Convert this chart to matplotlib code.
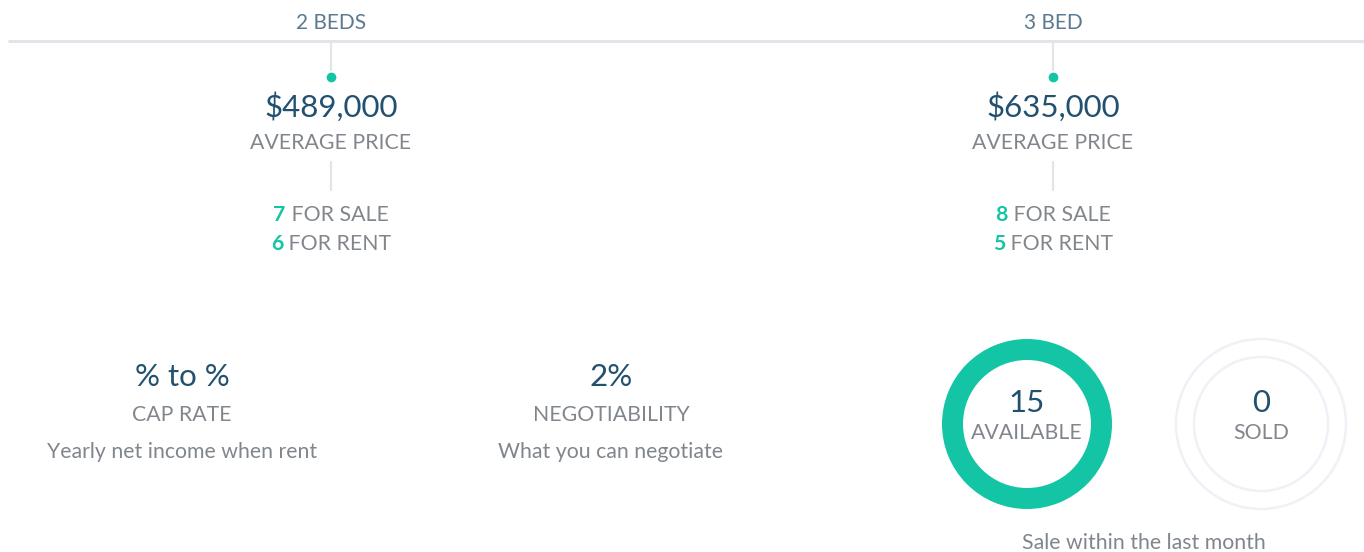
import matplotlib
matplotlib.use("Agg")
import matplotlib.pyplot as plt
from matplotlib.patches import Wedge, Circle

plt.rcParams['font.family'] = ['Lato', 'DejaVu Sans']

# ---- data ----
bed_labels = ["2 BEDS", "3 BED"]
avg_prices = [489000, 635000]
for_sale = [7, 8]
for_rent = [6, 5]
stat_values = ["% to %", "2%"]
stat_titles = ["CAP RATE", "NEGOTIABILITY"]
stat_notes = ["Yearly net income when rent", "What you can negotiate"]
available = 15
sold = 0
ring_caption = "Sale within the last month"

# ---- style ----
TEAL = "#13c5a4"
DARK = "#22506f"
GREY = "#80868c"
HEAD = "#5b7a8f"
LINE = "#e1e5ea"
TRACK = "#eef2f7"
FS_BIG = 22.5
FS_TXT = 15.3
FS_HEAD = 15

W, H = 1364, 552
fig = plt.figure(figsize=(W / 100, H / 100), dpi=100)
ax = fig.add_axes([0, 0, 1, 1])
ax.set_xlim(0, W)
ax.set_ylim(H, 0)
ax.axis("off")

# top timeline
ax.plot([8, W], [41, 41], color=LINE, lw=2.2, solid_capstyle="butt")
col_x = [331, 1053]
fig.canvas.draw()
r = fig.canvas.get_renderer()
for i, x in enumerate(col_x):
    ax.text(x, 23, bed_labels[i], ha="center", va="center", fontsize=FS_HEAD, color=HEAD)
    ax.plot([x, x], [41, 70], color=LINE, lw=1.6)
    ax.plot([x], [77], "o", color=TEAL, ms=7, mec="none")
    ax.text(x, 107, f"${avg_prices[i]:,}", ha="center", va="center", fontsize=FS_BIG, color=DARK)
    ax.text(x, 143, "AVERAGE PRICE", ha="center", va="center", fontsize=FS_TXT, color=GREY)
    ax.plot([x, x], [162, 190], color=LINE, lw=1.6)
    # count rows: number in teal bold, label in grey
    for y, n, lab in [(215, for_sale[i], "FOR SALE"), (244, for_rent[i], "FOR RENT")]:
        t1 = ax.text(0, y, str(n), ha="left", va="center", fontsize=FS_TXT, color=TEAL, fontweight="bold")
        t2 = ax.text(0, y, " " + lab, ha="left", va="center", fontsize=FS_TXT, color=GREY)
        w1 = t1.get_window_extent(r).width
        w2 = t2.get_window_extent(r).width
        left = x - (w1 + w2) / 2
        t1.set_x(left)
        t2.set_x(left + w1)

# bottom stats
stat_x = [182, 611]
for i, x in enumerate(stat_x):
    ax.text(x, 377, stat_values[i], ha="center", va="center", fontsize=FS_BIG, color=DARK)
    ax.text(x, 415, stat_titles[i], ha="center", va="center", fontsize=FS_TXT, color=GREY)
    ax.text(x, 452, stat_notes[i], ha="center", va="center", fontsize=FS_TXT, color=GREY)

# rings
total = available + sold
ring_specs = [(1027, available, "AVAILABLE"), (1261, sold, "SOLD")]
R_out, R_w = 85, 21
for cx, val, lab in ring_specs:
    frac = val / total if total else 0
    if frac > 0:
        ax.add_patch(Wedge((cx, 424), R_out, 90 - 360 * frac, 90, width=R_w,
                           facecolor=TEAL, edgecolor="none"))
    else:
        ax.add_patch(Circle((cx, 424), R_out, fill=False, edgecolor=TRACK, lw=1.8))
        ax.add_patch(Circle((cx, 424), R_out - 18, fill=False, edgecolor=TRACK, lw=1.8))
    ax.text(cx, 403, str(val), ha="center", va="center", fontsize=FS_BIG, color=DARK)
    ax.text(cx, 433, lab, ha="center", va="center", fontsize=FS_TXT, color=GREY)

ax.text(1144, 543, ring_caption, ha="center", va="center", fontsize=FS_TXT, color=GREY)

fig.savefig("out.png", dpi=100, facecolor="white")
